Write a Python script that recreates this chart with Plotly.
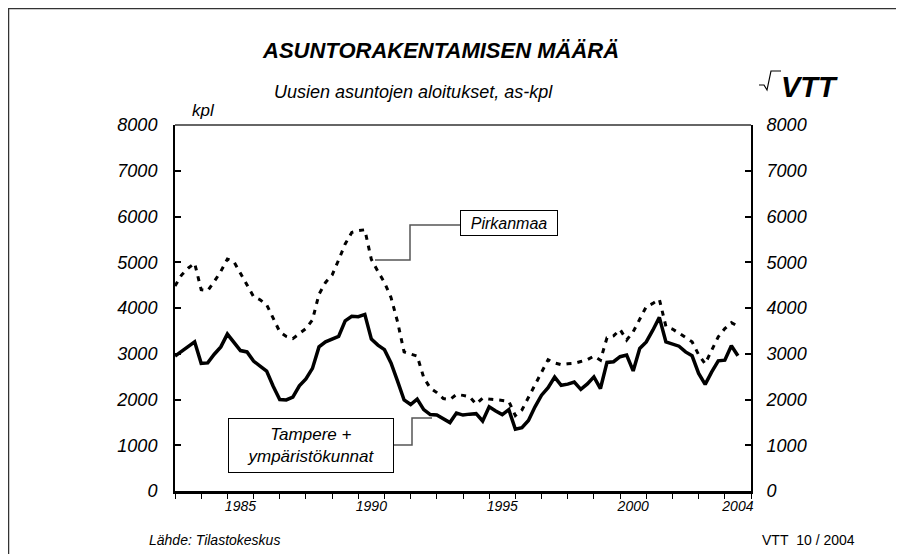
import plotly.graph_objects as go

# ---- data (quarterly, starting 1983 Q1) ----
start_year = 1983
pirkanmaa = [4480, 4720, 4870, 4980, 4400, 4380, 4580, 4800, 5070, 5010,
             4760, 4500, 4250, 4180, 4070, 3780, 3480, 3380, 3330, 3440,
             3550, 3740, 4300, 4560, 4720, 5050, 5400, 5650, 5690, 5710,
             5060, 4800, 4560, 4230, 3700, 3040, 3000, 2950, 2480, 2250,
             2150, 2020, 2000, 2110, 2090, 2060, 1900, 2030, 2010, 2000,
             1980, 1960, 1650, 1770, 2050, 2340, 2600, 2870, 2800, 2760,
             2780, 2790, 2830, 2870, 2950, 2860, 3350, 3390, 3530, 3300,
             3480, 3770, 4030, 4100, 4190, 3600, 3540, 3450, 3350, 3260,
             2980, 2780, 3080, 3370, 3550, 3680, 3600]
tampere = [2950, 3060, 3160, 3260, 2790, 2800, 2990, 3150, 3430, 3260,
           3070, 3040, 2840, 2730, 2620, 2290, 2000, 1990, 2050, 2300,
           2450, 2680, 3150, 3260, 3310, 3380, 3720, 3820, 3810, 3860,
           3320, 3190, 3090, 2800, 2400, 1990, 1890, 2010, 1780, 1670,
           1660, 1580, 1495, 1705, 1660, 1680, 1690, 1530, 1840, 1750,
           1670, 1780, 1350, 1385, 1540, 1840, 2095, 2260, 2490, 2310,
           2335, 2380, 2220, 2340, 2495, 2240, 2810, 2825, 2935, 2970,
           2625, 3115, 3260, 3515, 3795, 3260, 3210, 3165, 3040, 2955,
           2570, 2330, 2605, 2845, 2860, 3175, 2955]
x_years = [start_year + i * 0.25 for i in range(len(tampere))]

year_labels = ["1985", "1990", "1995", "2000", "2004"]
y_ticks = [0, 1000, 2000, 3000, 4000, 5000, 6000, 7000, 8000]

# ---- layout geometry (page pixels; page body has an 8px margin) ----
OFF = 8
W, H = 904 - OFF, 554 - OFF
PL, PR, PT, PB = 175, 751, 125, 491     # plot area in page pixels
L, T = PL - OFF, PT - OFF
R, B = W - (PR - OFF), H - (PB - OFF)
PW, PH = PR - PL, PB - PT

def px(x):
    return (x - PL) / PW

def py(y):
    return (PB - y) / PH

FONT = "Arial, 'Liberation Sans', sans-serif"

fig = go.Figure()
fig.add_trace(go.Scatter(x=x_years, y=pirkanmaa, mode="lines", name="Pirkanmaa",
                         line=dict(color="black", width=3, dash="5px,6px")))
fig.add_trace(go.Scatter(x=x_years, y=tampere, mode="lines", name="Tampere",
                         line=dict(color="black", width=3.5)))
# invisible trace for right axis
fig.add_trace(go.Scatter(x=[x_years[0]], y=[0], yaxis="y2", mode="markers",
                         marker=dict(opacity=0), showlegend=False, hoverinfo="skip"))

tick_font = dict(family=FONT, size=18, color="black", style="italic")

fig.update_layout(
    width=W, height=H, autosize=False,
    margin=dict(l=L, r=R, t=T, b=B),
    paper_bgcolor="white", plot_bgcolor="white",
    showlegend=False,
    font=dict(family=FONT, color="black"),
    xaxis=dict(range=[1983, 2005], tickmode="array",
               tickvals=[int(y) + 0.5 for y in year_labels], ticktext=year_labels,
               ticks="", showgrid=False, zeroline=False,
               showline=True, linecolor="black", linewidth=3,
               tickfont=dict(family=FONT, size=14, color="black", style="italic"),
               minor=dict(ticks="outside", tick0=1983, dtick=1, ticklen=5,
                          tickwidth=1, tickcolor="black", showgrid=False)),
    yaxis=dict(range=[0, 8000], tickmode="array", tickvals=y_ticks,
               ticks="inside", ticklen=6, tickwidth=1.5, tickcolor="black",
               showline=True, linecolor="black", linewidth=2,
               showgrid=False, zeroline=False, tickfont=tick_font,
               ticklabelstandoff=12),
    yaxis2=dict(range=[0, 8000], overlaying="y", side="right", tickmode="array",
                tickvals=y_ticks, ticks="inside", ticklen=6, tickwidth=1.5,
                tickcolor="black", showline=True, linecolor="black", linewidth=2,
                showgrid=False, zeroline=False, tickfont=tick_font,
                ticklabelstandoff=10),
)

shapes = [
    # outer frame
    dict(type="rect", xref="paper", yref="paper", x0=px(8.5), x1=px(897),
         y0=py(600), y1=py(8.5), line=dict(color="#333", width=1.5)),
    # top frame line of plot
    dict(type="line", xref="paper", yref="paper", x0=0, x1=1, y0=1, y1=1,
         line=dict(color="#666", width=2)),
    # connector for Pirkanmaa label
    dict(type="path", xref="paper", yref="paper",
         path=f"M {px(460)},{py(225)} L {px(410)},{py(225)} L {px(410)},{py(260)} L {px(375)},{py(260)}",
         line=dict(color="#555", width=1.5)),
    # connector for Tampere label
    dict(type="path", xref="paper", yref="paper",
         path=f"M {px(394)},{py(445)} L {px(412)},{py(445)} L {px(412)},{py(418)} L {px(432)},{py(418)}",
         line=dict(color="#555", width=1.5)),
    # VTT logo pulse
    dict(type="path", xref="paper", yref="paper",
         path=f"M {px(759)},{py(85)} L {px(764)},{py(85)} L {px(767)},{py(90)} L {px(771)},{py(71)} L {px(781)},{py(71)}",
         line=dict(color="black", width=1.2)),
]

def ann(text, x, y, size, xanchor="center", **kw):
    f = dict(family=FONT, size=size, color="black")
    f.update(kw.pop("font", {}))
    d = dict(text=text, x=px(x), y=py(y), xref="paper", yref="paper",
             xanchor=xanchor, yanchor="middle", showarrow=False, font=f)
    d.update(kw)
    return d

annotations = [
    ann("ASUNTORAKENTAMISEN MÄÄRÄ", 440, 50, 22, font=dict(weight="bold", style="italic")),
    ann("Uusien asuntojen aloitukset, as-kpl", 413, 92, 18, font=dict(style="italic")),
    ann("kpl", 203, 110, 17, font=dict(style="italic")),
    ann("VTT", 809, 87, 29, font=dict(weight="bold", style="italic")),
    ann("Pirkanmaa", 509, 223, 16, font=dict(style="italic"),
        width=96, height=24, borderpad=0, bordercolor="black", borderwidth=1, bgcolor="white"),
    ann("Tampere +<br>ympäristökunnat", 311, 445.5, 17, font=dict(style="italic"),
        width=164, height=53, borderpad=0, bordercolor="black", borderwidth=1, bgcolor="white"),
    ann("Lähde: Tilastokeskus", 147, 540, 14, xanchor="left", font=dict(style="italic")),
    ann("VTT\u00a0\u00a010 / 2004", 857, 540, 14, xanchor="right"),
]

fig.update_layout(shapes=shapes, annotations=annotations)
fig.write_html("out.html")
